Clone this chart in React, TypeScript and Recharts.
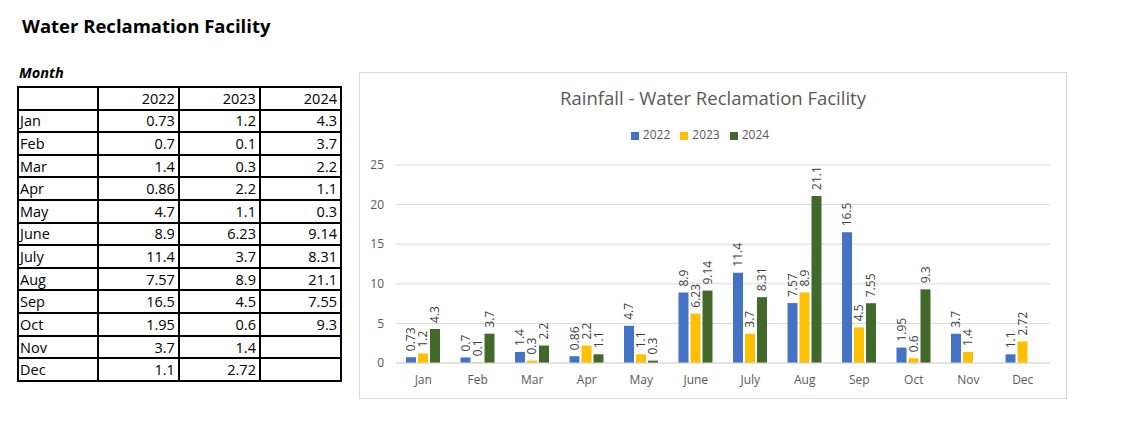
import React from 'react';
import { BarChart, Bar, XAxis, YAxis, CartesianGrid, Legend, LabelList } from 'recharts';

const months = ['Jan', 'Feb', 'Mar', 'Apr', 'May', 'June', 'July', 'Aug', 'Sep', 'Oct', 'Nov', 'Dec'];
const rain2022 = [0.73, 0.7, 1.4, 0.86, 4.7, 8.9, 11.4, 7.57, 16.5, 1.95, 3.7, 1.1];
const rain2023 = [1.2, 0.1, 0.3, 2.2, 1.1, 6.23, 3.7, 8.9, 4.5, 0.6, 1.4, 2.72];
const rain2024 = [4.3, 3.7, 2.2, 1.1, 0.3, 9.14, 8.31, 21.1, 7.55, 9.3, null, null];
const yTicks = [0, 5, 10, 15, 20, 25];
const years = ['2022', '2023', '2024'];

const data = months.map((m, i) => ({
  month: m,
  y2022: rain2022[i],
  y2023: rain2023[i],
  y2024: rain2024[i],
}));

const FONT = '"Open Sans", "Noto Sans", sans-serif';
const GRAY = '#595959';

// rotated value label sitting on top of each bar
const VertLabel = (props: any) => {
  const { x, y, width, value } = props;
  if (value === null || value === undefined) return null;
  const cx = x + width / 2;
  const cy = y - 6;
  return (
    <text
      x={cx}
      y={cy}
      transform={`rotate(-90, ${cx}, ${cy})`}
      textAnchor="start"
      dominantBaseline="central"
      fontSize={12}
      fontFamily={FONT}
      fill="#404040"
    >
      {value}
    </text>
  );
};

const cell: React.CSSProperties = {
  border: '2px solid #000',
  padding: '0 3px',
  textAlign: 'right',
  width: 81,
};

export default function App() {
  return (
    <div style={{ position: 'absolute', left: 0, top: 0, width: 1141, height: 442, fontFamily: FONT, background: '#fff' }}>
      <div style={{ position: 'absolute', left: 22, top: 13, fontSize: 18.5, fontWeight: 700, color: '#000' }}>
        Water Reclamation Facility
      </div>
      <div style={{ position: 'absolute', left: 19, top: 63, fontSize: 14.5, fontWeight: 700, fontStyle: 'italic' }}>
        Month
      </div>
      <table
        style={{
          position: 'absolute',
          left: 17,
          top: 86,
          width: 325,
          height: 296,
          borderCollapse: 'collapse',
          fontSize: 14.5,
          color: '#000',
        }}
      >
        <tbody>
          <tr>
            <td style={cell}></td>
            {years.map((y) => (
              <td key={y} style={cell}>{y}</td>
            ))}
          </tr>
          {months.map((m, i) => (
            <tr key={m}>
              <td style={{ ...cell, textAlign: 'left', padding: '0 1px' }}>{m}</td>
              <td style={cell}>{rain2022[i] ?? ''}</td>
              <td style={cell}>{rain2023[i] ?? ''}</td>
              <td style={cell}>{rain2024[i] ?? ''}</td>
            </tr>
          ))}
        </tbody>
      </table>

      <div
        style={{
          position: 'absolute',
          left: 359,
          top: 72,
          width: 708,
          height: 327,
          boxSizing: 'border-box',
          border: '1px solid #d9d9d9',
        }}
      >
        <div
          style={{
            position: 'absolute',
            left: 0,
            top: 14,
            width: '100%',
            textAlign: 'center',
            fontSize: 18.5,
            lineHeight: '22px',
            color: GRAY,
          }}
        >
          Rainfall - Water Reclamation Facility
        </div>
        <BarChart
          width={706}
          height={325}
          data={data}
          margin={{ top: 75, right: 16, left: 0, bottom: 0 }}
          barSize={10}
          barGap={2}
        >
          <CartesianGrid vertical={false} stroke="#d9d9d9" />
          <XAxis
            dataKey="month"
            axisLine={{ stroke: '#d9d9d9' }}
            tickLine={false}
            tickMargin={6}
            height={35}
            tick={{ fill: GRAY, fontSize: 12, fontFamily: FONT }}
          />
          <YAxis
            domain={[0, 25]}
            ticks={yTicks}
            width={36}
            axisLine={false}
            tickLine={false}
            tickMargin={6}
            tick={{ fill: GRAY, fontSize: 12, fontFamily: FONT }}
          />
          <Legend
            verticalAlign="top"
            align="center"
            iconType="square"
            iconSize={8}
            wrapperStyle={{ top: 53, fontSize: 12, fontFamily: FONT }}
            formatter={(v: string) => <span style={{ color: GRAY }}>{v}</span>}
          />
          <Bar dataKey="y2022" name="2022" fill="#4472C4" isAnimationActive={false}>
            <LabelList dataKey="y2022" content={VertLabel} />
          </Bar>
          <Bar dataKey="y2023" name="2023" fill="#FFC000" isAnimationActive={false}>
            <LabelList dataKey="y2023" content={VertLabel} />
          </Bar>
          <Bar dataKey="y2024" name="2024" fill="#43682B" isAnimationActive={false}>
            <LabelList dataKey="y2024" content={VertLabel} />
          </Bar>
        </BarChart>
      </div>
    </div>
  );
}
